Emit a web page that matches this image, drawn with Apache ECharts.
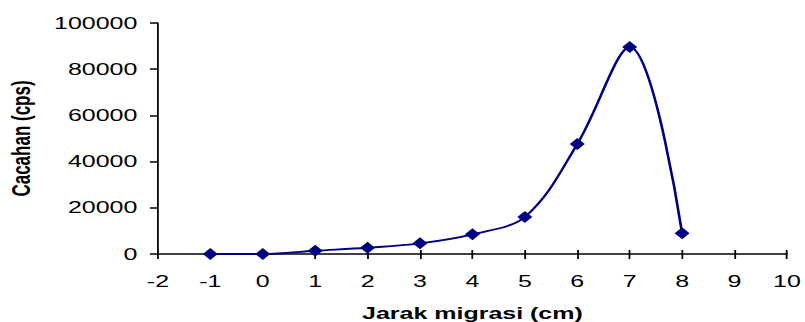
<!DOCTYPE html>
<html>
<head>
<meta charset="utf-8">
<script src="https://cdn.jsdelivr.net/npm/echarts@6/dist/echarts.min.js"></script>
<style>
html,body{margin:0;padding:0;background:#fff;overflow:hidden;}
/* The chart is laid out at 548px and widened to fill the 805px page */
#chart{width:548px;height:322px;transform:scaleX(1.469);transform-origin:0 0;}
</style>
</head>
<body>
<div id="chart"></div>
<script>
// Migration distance (cm) and count rate (cps)
var distance = [-1, 0, 1, 2, 3, 4, 5, 6, 7, 8];
var counts = [0, 0, 1400, 2700, 4600, 8500, 16000, 47600, 89600, 9000];
var xTicks = [-2, -1, 0, 1, 2, 3, 4, 5, 6, 7, 8, 9, 10];
var yTicks = [0, 20000, 40000, 60000, 80000, 100000];

var chart = echarts.init(document.getElementById('chart'), null, { renderer: 'svg' });
var navy = '#000080';
var font = 'Liberation Sans, Arial, sans-serif';

var xMin = xTicks[0], xMax = xTicks[xTicks.length - 1];

chart.setOption({
  animation: false,
  grid: { left: 107.5, right: 12.3, top: 23, bottom: 68, containLabel: false, outerBoundsMode: 'none' },
  xAxis: [{
    type: 'value',
    min: xMin,
    max: xMax,
    interval: 1,
    name: 'Jarak migrasi (cm)',
    nameLocation: 'middle',
    nameGap: 51,
    nameTextStyle: { color: '#000', fontFamily: font, fontWeight: 'bold', fontSize: 17 },
    axisLine: { onZero: false, lineStyle: { color: '#000', width: 1.5 } },
    axisTick: { show: true, length: 5, lineStyle: { color: '#000', width: 1.2 } },
    axisLabel: { color: '#000', fontFamily: font, fontSize: 17, margin: 19 },
    splitLine: { show: false }
  }, {
    // upper half of the crossing tick marks on the x axis
    type: 'value',
    position: 'bottom',
    min: xMin,
    max: xMax,
    interval: 1,
    axisLine: { show: false, onZero: false },
    axisTick: { show: true, inside: true, length: 4, lineStyle: { color: '#000', width: 1.2 } },
    axisLabel: { show: false },
    splitLine: { show: false }
  }],
  yAxis: {
    type: 'value',
    min: yTicks[0],
    max: yTicks[yTicks.length - 1],
    interval: 20000,
    name: 'Cacahan (cps)',
    nameLocation: 'middle',
    nameGap: 84,
    nameRotate: 90,
    nameTextStyle: { color: '#000', fontFamily: font, fontWeight: 'bold', fontSize: 17 },
    axisLine: { show: true, onZero: false, lineStyle: { color: '#000', width: 1.2 } },
    axisTick: { show: true, length: 5.4, lineStyle: { color: '#000', width: 1.5 } },
    axisLabel: {
      color: '#000', fontFamily: font, fontSize: 17, margin: 14,
      formatter: function (v) { return String(v); }
    },
    splitLine: { show: false }
  },
  series: [{
    type: 'line',
    xAxisIndex: 0,
    data: distance.map(function (d, i) { return [d, counts[i]]; }),
    smooth: 0.35,
    symbol: 'diamond',
    symbolSize: [10.2, 12],
    itemStyle: { color: navy },
    lineStyle: { color: navy, width: 1.8 }
  }]
});
</script>
</body>
</html>
